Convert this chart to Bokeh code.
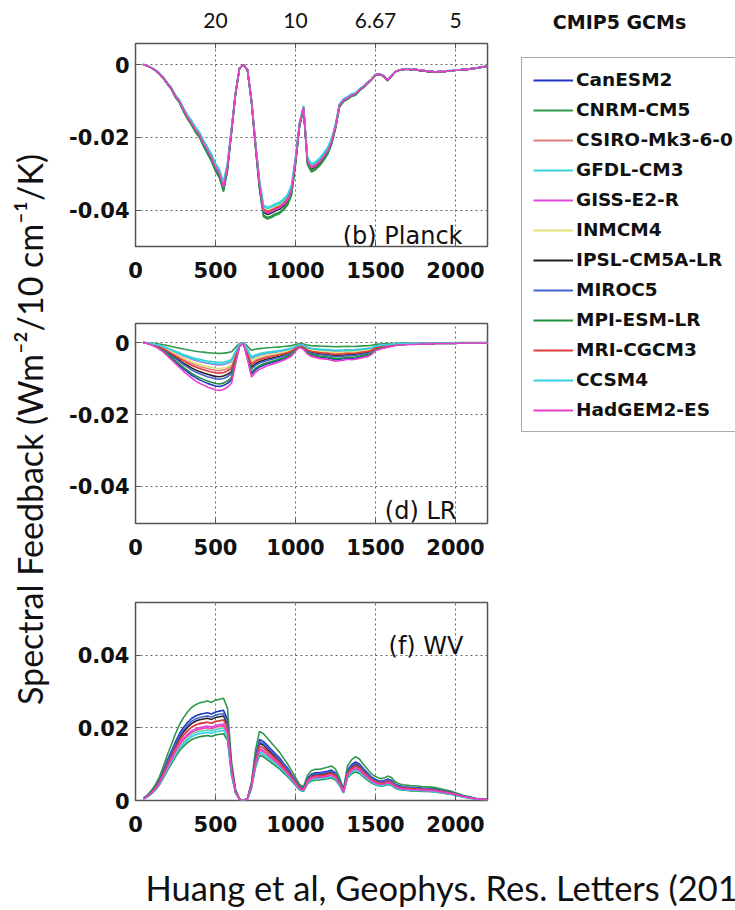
import numpy as np
from math import pi
from bokeh.plotting import figure
from bokeh.models import (Range1d, LinearAxis, FixedTicker, NumeralTickFormatter,
                          Label, Legend, LegendItem)
from bokeh.layouts import row, column
from bokeh.embed import file_html
from bokeh.resources import INLINE

# ---------------- data ----------------
wavenumber = list(range(50, 2225, 25))  # cm^-1, 50 ... 2200

models = ["CanESM2", "CNRM-CM5", "CSIRO-Mk3-6-0", "GFDL-CM3", "GISS-E2-R", "INMCM4",
          "IPSL-CM5A-LR", "MIROC5", "MPI-ESM-LR", "MRI-CGCM3", "CCSM4", "HadGEM2-ES"]
colors = ["#1f35c4", "#2f9a48", "#e27d7d", "#3fd3d6", "#df48d8", "#e4df78",
          "#222222", "#4565cc", "#22903c", "#e23b3b", "#33d0e2", "#ea3fcc"]

planck_mean = [
    0.0000, -0.0004,
    -0.0009, -0.0016, -0.0025, -0.0037,
    -0.0052, -0.0066, -0.0087, -0.0101,
    -0.0124, -0.0144, -0.0160, -0.0179,
    -0.0193, -0.0216, -0.0236, -0.0256,
    -0.0282, -0.0300, -0.0336, -0.0280,
    -0.0180, -0.0080, -0.0010, 0.0000,
    -0.0015, -0.0100, -0.0220, -0.0330,
    -0.0402, -0.0408, -0.0404, -0.0398,
    -0.0394, -0.0385, -0.0372, -0.0345,
    -0.0265, -0.0165, -0.0118, -0.0265,
    -0.0284, -0.0278, -0.0268, -0.0254,
    -0.0238, -0.0212, -0.0170, -0.0112,
    -0.0098, -0.0092, -0.0084, -0.0081,
    -0.0069, -0.0061, -0.0050, -0.0041,
    -0.0028, -0.0026, -0.0031, -0.0043,
    -0.0031, -0.0019, -0.0015, -0.0013,
    -0.0012, -0.0014, -0.0013, -0.0016,
    -0.0016, -0.0019, -0.0018, -0.0021,
    -0.0018, -0.0020, -0.0017, -0.0017,
    -0.0015, -0.0015, -0.0013, -0.0013,
    -0.0011, -0.0010, -0.0008, -0.0006,
    -0.0004]

lr_mean = [
    0.0000, -0.0002,
    -0.0005, -0.0009, -0.0014, -0.0020,
    -0.0028, -0.0036, -0.0044, -0.0052,
    -0.0060, -0.0067, -0.0074, -0.0080,
    -0.0085, -0.0089, -0.0093, -0.0096,
    -0.0099, -0.0100, -0.0098, -0.0093,
    -0.0085, -0.0045, -0.0008, -0.0002,
    -0.0035, -0.0072, -0.0062, -0.0056,
    -0.0052, -0.0048, -0.0046, -0.0043,
    -0.0040, -0.0037, -0.0033, -0.0028,
    -0.0018, -0.0010, -0.0014, -0.0024,
    -0.0029, -0.0031, -0.0033, -0.0034,
    -0.0035, -0.0037, -0.0039, -0.0038,
    -0.0037, -0.0035, -0.0036, -0.0035,
    -0.0033, -0.0031, -0.0029, -0.0025,
    -0.0017, -0.0014, -0.0012, -0.0010,
    -0.0008, -0.0006, -0.0005, -0.0005,
    -0.0004, -0.0004, -0.0004, -0.0003,
    -0.0003, -0.0003, -0.0003, -0.0002,
    -0.0002, -0.0002, -0.0002, -0.0002,
    -0.0002, -0.0001, -0.0001, -0.0001,
    -0.0001, -0.0001, -0.0001, -0.0001,
    -0.0001]

wv_mean = [
    0.0005, 0.0012,
    0.0022, 0.0035, 0.0052, 0.0075,
    0.0100, 0.0122, 0.0145, 0.0165,
    0.0180, 0.0192, 0.0202, 0.0208,
    0.0212, 0.0214, 0.0216, 0.0213,
    0.0218, 0.0220, 0.0222, 0.0200,
    0.0085, 0.0025, 0.0003, 0.0000,
    0.0005, 0.0040, 0.0110, 0.0150,
    0.0145, 0.0135, 0.0125, 0.0115,
    0.0105, 0.0092, 0.0080, 0.0065,
    0.0050, 0.0035, 0.0030, 0.0055,
    0.0065, 0.0068, 0.0068, 0.0070,
    0.0072, 0.0075, 0.0068, 0.0050,
    0.0025, 0.0075, 0.0088, 0.0095,
    0.0090, 0.0078, 0.0068, 0.0058,
    0.0052, 0.0048, 0.0048, 0.0053,
    0.0050, 0.0040, 0.0036, 0.0034,
    0.0033, 0.0032, 0.0032, 0.0031,
    0.0030, 0.0030, 0.0029, 0.0028,
    0.0026, 0.0024, 0.0022, 0.0020,
    0.0017, 0.0014, 0.0011, 0.0009,
    0.0007, 0.0005, 0.0004, 0.0003,
    0.0002]

# per-model spread relative to the mean curve (read at the band minima / maxima)
planck_scale = [1.00, 1.04, 0.99, 0.96, 1.00, 0.98, 1.01, 1.00, 1.03, 0.99, 0.97, 1.00]
lr_scale = [1.22, 0.30, 0.78, 0.55, 0.62, 0.72, 0.95, 1.02, 1.15, 0.85, 0.60, 1.33]
wv_scale = [1.12, 1.27, 1.00, 0.90, 0.95, 0.92, 1.05, 1.08, 0.83, 1.00, 0.87, 0.93]

bottom_ticks = [0, 500, 1000, 1500, 2000]
grid_ticks = [500, 1000, 1500, 2000]
top_ticks = [500, 1000, 1500, 2000]
top_tick_labels = ["20", "10", "6.67", "5"]
planck_yticks = [-0.04, -0.02, 0]
lr_yticks = [-0.04, -0.02, 0]
wv_yticks = [0, 0.02, 0.04]

# ---------------- styling helpers ----------------
TICK_FONT = "DejaVu Sans"
FRAME = "#555555"
ROW_H = 850


def panel(mean, scales, yrange, yticks, tag, tag_x, tag_y, height, btop, bbottom,
          top_axis=False):
    p = figure(width=427, height=height, x_range=Range1d(0, 2200),
               y_range=Range1d(*yrange), output_backend="svg", toolbar_location=None,
               title=None, min_border_left=70, min_border_right=5,
               min_border_top=btop, min_border_bottom=bbottom)
    p.background_fill_color = "white"
    p.border_fill_color = "white"
    p.outline_line_color = FRAME
    p.outline_line_width = 1.5

    for name, c, s in zip(models, colors, scales):
        p.line(wavenumber, np.array(mean) * s, line_color=c, line_width=1.6)

    p.xaxis.ticker = FixedTicker(ticks=bottom_ticks)
    p.yaxis.ticker = FixedTicker(ticks=yticks)
    p.yaxis.formatter = NumeralTickFormatter(format="0.[00]")
    for ax in (p.xaxis, p.yaxis):
        ax.axis_line_color = None
        ax.major_tick_in = 5
        ax.major_tick_out = 0
        ax.major_tick_line_color = FRAME
        ax.minor_tick_line_color = None
        ax.major_label_text_font = TICK_FONT
        ax.major_label_text_font_style = "bold"
        ax.major_label_text_font_size = "21px"
        ax.major_label_text_color = "#111111"
    p.xaxis.major_label_standoff = 15
    p.yaxis.major_label_standoff = 6

    p.xgrid.ticker = FixedTicker(ticks=grid_ticks)
    p.ygrid.ticker = FixedTicker(ticks=yticks)
    p.grid.grid_line_color = "#666666"
    p.grid.grid_line_dash = "2 3"
    p.grid.grid_line_width = 1

    if top_axis:
        ta = LinearAxis(ticker=FixedTicker(ticks=top_ticks),
                        major_label_overrides=dict(zip(top_ticks, top_tick_labels)))
        ta.axis_line_color = None
        ta.major_tick_in = 5
        ta.major_tick_out = 0
        ta.major_tick_line_color = FRAME
        ta.minor_tick_line_color = None
        ta.major_label_text_font = "Lato"
        ta.major_label_text_font_size = "21px"
        ta.major_label_text_color = "#111111"
        ta.major_label_standoff = 16
        p.add_layout(ta, "above")

    p.add_layout(Label(x=tag_x, y=tag_y, x_units="screen", y_units="screen", text=tag,
                       text_align="right", text_baseline="middle",
                       text_font="DejaVu Sans", text_font_size="24px",
                       text_color="#111111"))
    return p


p1 = panel(planck_mean, planck_scale, (-0.0500, 0.0058), planck_yticks, "(b) Planck",
           327, 11, 295, 43, 49, top_axis=True)
p2 = panel(lr_mean, lr_scale, (-0.0503, 0.0053), lr_yticks, "(d) LR",
           321, 13, 280, 28, 52)
p3 = panel(wv_mean, wv_scale, (0.0, 0.0546), wv_yticks, "(f) WV",
           328, 155, 275, 27, 50)


def blank(width, height):
    f = figure(width=width, height=height, x_range=Range1d(0, 1), y_range=Range1d(0, 1),
               x_axis_location=None, y_axis_location=None, min_border=0, title=None,
               output_backend="svg", toolbar_location=None)
    f.outline_line_color = None
    f.grid.visible = False
    return f


# y-axis label spanning the three panels
lab = blank(65, ROW_H)
lab.add_layout(Label(x=29, y=ROW_H - 429, x_units="screen", y_units="screen", angle=pi / 2,
                     text="Spectral Feedback (Wm\u207b\u00b2/10 cm\u207b\u00b9/K)",
                     text_align="center", text_baseline="middle",
                     text_font="Lato", text_font_size="34px", text_color="#111111"))

# legend column (legend-only renderers carry no visible data)
lf = blank(243, ROW_H)
items = []
for name, c in zip(models, colors):
    r = lf.line([np.nan, np.nan], [np.nan, np.nan], line_color=c, line_width=2)
    items.append(LegendItem(label=name, renderers=[r]))
leg = Legend(items=items, location=(29, ROW_H - 432), orientation="vertical",
             border_line_color=FRAME, border_line_width=1.5,
             background_fill_color="white", background_fill_alpha=1.0,
             padding=11, spacing=9, margin=0,
             glyph_width=40, glyph_height=20, label_height=20, label_standoff=3,
             label_text_font="DejaVu Sans", label_text_font_style="bold",
             label_text_font_size="18.5px", label_text_color="#111111")
lf.add_layout(leg, "center")
lf.add_layout(Label(x=127, y=ROW_H - 21, x_units="screen", y_units="screen",
                    text="CMIP5 GCMs",
                    text_align="center", text_baseline="middle",
                    text_font="DejaVu Sans", text_font_style="bold",
                    text_font_size="19px", text_color="#111111"))

# citation line
tf = blank(735, 59)
tf.add_layout(Label(x=145, y=22, x_units="screen", y_units="screen",
                    text="Huang et al, Geophys. Res. Letters (2014)",
                    text_align="left", text_baseline="middle",
                    text_font="Lato", text_font_size="34.5px", text_color="#111111"))

layout = column(row(lab, column(p1, p2, p3), lf), tf)

open("out.html", "w").write(file_html(layout, INLINE))
